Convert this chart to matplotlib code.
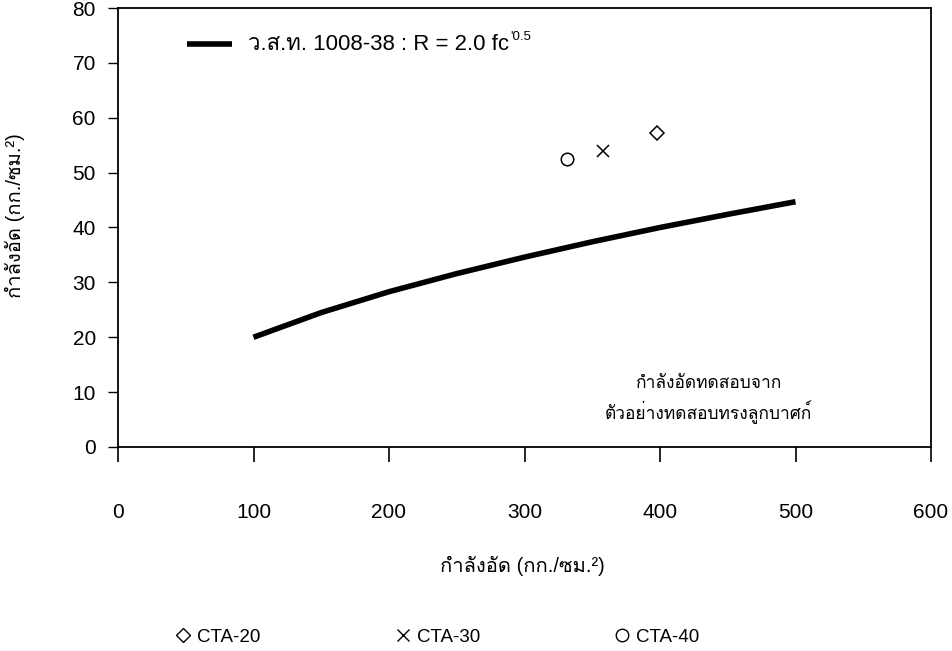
import numpy as np
import matplotlib
matplotlib.use("Agg")
import matplotlib.pyplot as plt
from matplotlib import font_manager
from matplotlib.ft2font import FT2Font
from matplotlib.lines import Line2D

# find an installed family that has Thai glyphs
thai_family = None
for f in font_manager.fontManager.ttflist:
    try:
        if 0x0E01 in FT2Font(f.fname).get_charmap():
            thai_family = f.name
            break
    except Exception:
        pass
families = ['Liberation Sans'] + ([thai_family] if thai_family else []) + ['DejaVu Sans']
plt.rcParams['font.family'] = families

# code curve (R = 2.0 fc'^0.5)
fc_code = [100, 150, 200, 250, 300, 350, 400, 450, 500]
r_code = [20.0, 24.5, 28.3, 31.6, 34.6, 37.4, 40.0, 42.4, 44.7]

# cube test points
tests = ['CTA-20', 'CTA-30', 'CTA-40']
fc_test = [398, 358, 331]
r_test = [57.3, 54.0, 52.5]
markers = ['D', 'x', 'o']

xticks = [0, 100, 200, 300, 400, 500, 600]
yticks = [0, 10, 20, 30, 40, 50, 60, 70, 80]

fig = plt.figure(figsize=(9.53, 6.51), dpi=100)
ax = fig.add_axes([118/953, 1-447/651, (931-118)/953, (447-8)/651])

ax.plot(fc_code, r_code, color='black', lw=4, solid_capstyle='butt')
for x, y, m in zip(fc_test, r_test, markers):
    ax.plot(x, y, marker=m, ms=9 if m != 'D' else 7, mfc='none', mec='black',
            mew=1.1, ls='none')

ax.set_xlim(0, 600)
ax.set_ylim(0, 80)
ax.set_xticks(xticks)
ax.set_yticks(yticks)
ax.tick_params(axis='x', direction='out', length=11, width=1.2, pad=29, labelsize=15)
ax.tick_params(axis='y', direction='out', length=7, width=1.0, pad=9, labelsize=15)
for s in ax.spines.values():
    s.set_linewidth(1.3)

ax.set_xlabel('กำลังอัด (กก./ซม.²)', fontsize=14.5)
ax.set_ylabel('กำลังอัด (กก./ซม.²)', fontsize=14.5)
ax.xaxis.set_label_coords(0.498, -0.247)
ax.yaxis.set_label_coords(-0.114, 0.528)

# inner legend for the code line
ax.plot([51, 84], [73.4, 73.4], color='black', lw=4, solid_capstyle='butt')
t = ax.text(96, 73.4, "ว.ส.ท. 1008-38 : R = 2.0 fc", fontsize=16, va='center')
ax.annotate("'0.5", xy=(1, 1), xycoords=t, xytext=(0.5, 2), textcoords='offset points',
            fontsize=9.5, va='top', ha='left')

ax.text(436, 11.5, 'กำลังอัดทดสอบจาก', fontsize=12.5, ha='center', va='center')
ax.text(436, 6.4, 'ตัวอย่างทดสอบทรงลูกบาศก์', fontsize=12.5, ha='center', va='center')

handles = [Line2D([], [], marker=m, ls='none', mfc='none', mec='black',
                  ms=9 if m != 'D' else 7, mew=1.0) for m in markers]
fig.legend(handles, tests, loc='center', bbox_to_anchor=(0.458, 1-637/651),
           ncol=3, frameon=False, fontsize=13.5, handletextpad=0.25,
           columnspacing=7.1, handlelength=1.0)

fig.savefig('out.png', dpi=100)
